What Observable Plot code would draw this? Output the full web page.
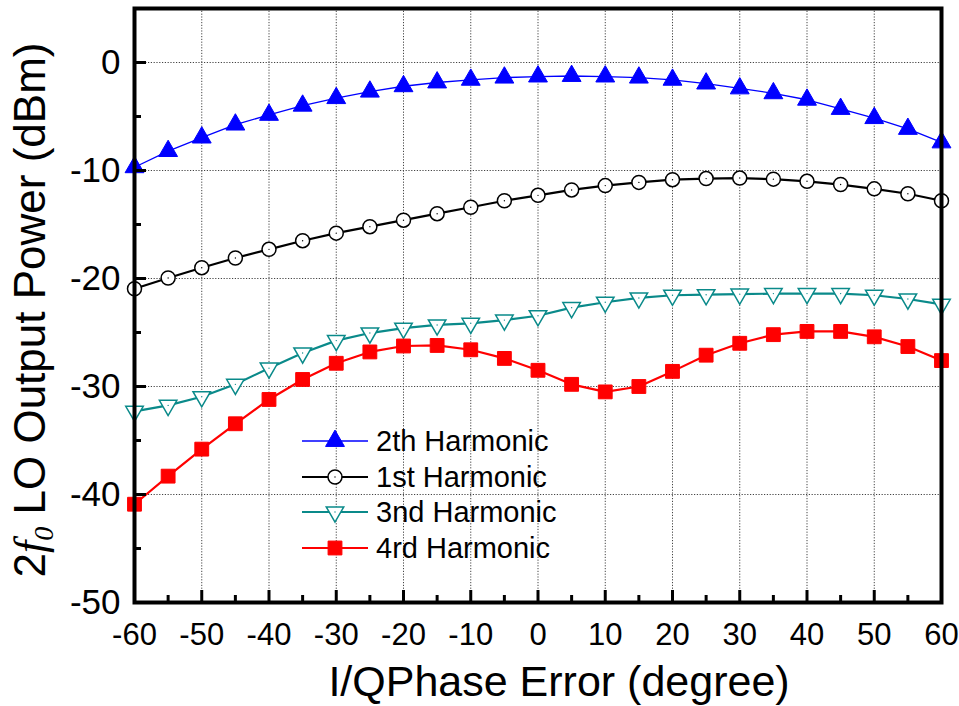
<!DOCTYPE html>
<html><head><meta charset="utf-8">
<script src="https://cdn.jsdelivr.net/npm/d3@7"></script>
<script src="https://cdn.jsdelivr.net/npm/@observablehq/plot@0.6"></script>
<style>
body{margin:0;background:#fff;}
#chart{width:959px;height:706px;}
</style></head><body><div id="chart"></div>
<script>
const phase = [-60,-55,-50,-45,-40,-35,-30,-25,-20,-15,-10,-5,0,5,10,15,20,25,30,35,40,45,50,55,60];
const harm2 = [-9.7,-8.2,-6.95,-5.75,-4.85,-4.0,-3.3,-2.7,-2.2,-1.85,-1.6,-1.4,-1.3,-1.25,-1.3,-1.4,-1.6,-1.95,-2.4,-2.85,-3.45,-4.3,-5.15,-6.15,-7.4];
const harm1 = [-20.95,-19.95,-19.0,-18.1,-17.3,-16.5,-15.8,-15.2,-14.6,-14.0,-13.4,-12.8,-12.3,-11.8,-11.4,-11.1,-10.85,-10.75,-10.7,-10.8,-11.0,-11.3,-11.7,-12.15,-12.8];
const harm3 = [-32.3,-31.75,-30.95,-29.8,-28.3,-26.9,-25.75,-25.05,-24.6,-24.3,-24.15,-23.85,-23.45,-22.7,-22.2,-21.8,-21.55,-21.5,-21.45,-21.4,-21.4,-21.4,-21.55,-21.9,-22.4];
const harm4 = [-40.9,-38.3,-35.8,-33.45,-31.2,-29.35,-27.85,-26.8,-26.25,-26.2,-26.6,-27.4,-28.5,-29.8,-30.5,-30.0,-28.6,-27.1,-26.0,-25.2,-24.9,-24.9,-25.4,-26.3,-27.6];
const seriesNames = ["2th Harmonic","1st Harmonic","3nd Harmonic","4rd Harmonic"];
const xTicks = [-60,-50,-40,-30,-20,-10,0,10,20,30,40,50,60];
const xMinor = [-55,-45,-35,-25,-15,-5,5,15,25,35,45,55];
const yTicks = [-50,-40,-30,-20,-10,0];
const yMinor = [-45,-35,-25,-15,-5];
const xTitle = "I/QPhase Error (degree)";

const styles = [
  {color:"#0000ff", lw:1.3, symbol:"triangle", r:7.0, fill:"#0000ff", sw:1, rotate:0, centerDot:false},
  {color:"#000000", lw:2.2, symbol:"circle", r:7.0, fill:"#ffffff", sw:1.5, rotate:0, centerDot:true},
  {color:"#0a8a8a", lw:2.2, symbol:"triangle", r:6.5, fill:"#ffffff", sw:1.5, rotate:180, centerDot:true},
  {color:"#ff0000", lw:2.2, symbol:"square", r:7.8, fill:"#ff0000", sw:1, rotate:0, centerDot:false}
];
const allSeries = [harm2, harm1, harm3, harm4];
const rows = allSeries.map((vals, i) => phase.map((x, j) => ({x, y: vals[j], s: seriesNames[i]})));

const W = 959, H = 706, mL = 134, mR = 18, mT = 8, mB = 104;
const plotW = W - mL - mR, plotH = H - mT - mB;
const font = "'Liberation Sans', Arial, sans-serif";

const marks = [
  Plot.ruleX(xTicks, {x: d => d, stroke: "#444", strokeDasharray: "1.2,1.6", strokeWidth: 1}),
  Plot.ruleY(yTicks, {y: d => d, stroke: "#444", strokeDasharray: "1.2,1.6", strokeWidth: 1}),
];
rows.forEach((data, i) => {
  const st = styles[i];
  marks.push(Plot.line(data, {x: "x", y: "y", stroke: st.color, strokeWidth: st.lw}));
  marks.push(Plot.dot(data, {x: "x", y: "y", symbol: st.symbol, r: st.r, fill: st.fill, stroke: st.color, strokeWidth: st.sw, rotate: st.rotate}));
  if (st.centerDot) marks.push(Plot.dot(data, {x: "x", y: "y", r: 0.7, fill: st.color, stroke: null}));
});
marks.push(
  Plot.tickX(xTicks, {x: d => d, insetTop: plotH - 12, stroke: "#000", strokeWidth: 3}),
  Plot.tickX(xMinor, {x: d => d, insetTop: plotH - 7, stroke: "#000", strokeWidth: 3}),
  Plot.tickY(yTicks, {y: d => d, insetRight: plotW - 12, stroke: "#000", strokeWidth: 3}),
  Plot.tickY(yMinor, {y: d => d, insetRight: plotW - 7, stroke: "#000", strokeWidth: 3}),
  Plot.frame({stroke: "#000", strokeWidth: 4}),
  Plot.axisX(xTicks, {tickSize: 0, tickPadding: 20, fontSize: 31, label: null, tickFormat: d => String(d)}),
  Plot.axisY(yTicks, {tickSize: 0, tickPadding: 14, fontSize: 35, label: null, tickFormat: d => String(d)})
);

const plot = Plot.plot({
  width: W, height: H,
  marginLeft: mL, marginRight: mR, marginTop: mT, marginBottom: mB,
  x: {domain: [-60, 60]},
  y: {domain: [-50, 5]},
  style: {fontFamily: font, background: "#fff", color: "#000", overflow: "visible"},
  marks
});
document.getElementById("chart").appendChild(plot);

const svg = d3.select(plot);
// x title
svg.append("text")
  .attr("x", 559).attr("y", 696)
  .attr("text-anchor", "middle")
  .attr("font-family", font).attr("font-size", 43).attr("fill", "#000")
  .text(xTitle);
// y title with italic f and subscript 0
const yt = svg.append("text")
  .attr("transform", "translate(45,310) rotate(-90)")
  .attr("text-anchor", "middle")
  .attr("font-family", font).attr("font-size", 44).attr("fill", "#000");
yt.append("tspan").text("2");
yt.append("tspan").attr("font-family", "'Liberation Serif', serif").attr("font-style", "italic").text("f");
yt.append("tspan").attr("font-family", "'Liberation Serif', serif").attr("font-style", "italic").attr("font-size", 28).attr("dy", 8).text("0");
yt.append("tspan").attr("dy", -8).text(" LO Output Power (dBm)");

// legend
const lg = svg.append("g").attr("font-family", font).attr("text-anchor", "start");
const legY = [441, 477, 512, 548];
seriesNames.forEach((name, i) => {
  const st = styles[i];
  const y = legY[i];
  lg.append("line").attr("x1", 302).attr("x2", 368).attr("y1", y).attr("y2", y)
    .attr("stroke", st.color).attr("stroke-width", st.lw);
  const type = st.symbol === "triangle" ? d3.symbolTriangle : st.symbol === "square" ? d3.symbolSquare : d3.symbolCircle;
  lg.append("path").attr("d", d3.symbol(type, Math.PI * st.r * st.r)())
    .attr("transform", `translate(335,${y}) rotate(${st.rotate})`)
    .attr("fill", st.fill).attr("stroke", st.color).attr("stroke-width", st.sw);
  if (st.centerDot) lg.append("circle").attr("cx", 335).attr("cy", y).attr("r", 0.7).attr("fill", st.color);
  lg.append("text").attr("x", 376).attr("y", y).attr("dy", "0.35em").attr("text-anchor", "start")
    .attr("font-size", 29).attr("fill", "#000").text(name);
});
</script></body></html>
